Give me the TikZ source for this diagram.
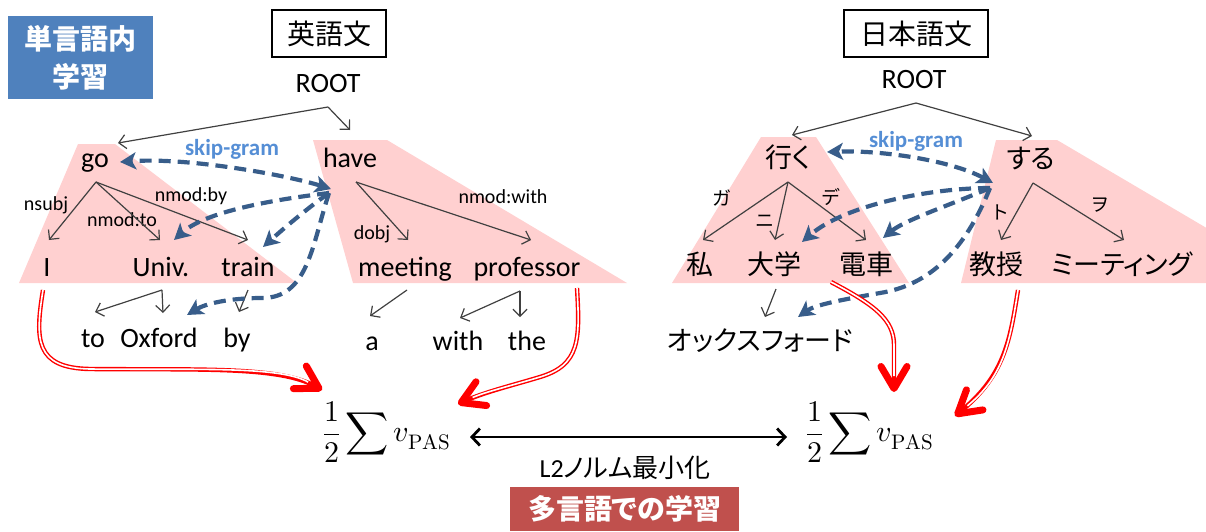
\documentclass[tikz,border=0pt]{standalone}
\usepackage{fontspec}
\usepackage{unicode-math}
\setmainfont{Carlito}
\setmathfont{Latin Modern Math}
\newfontfamily\jp[RawFeature=+palt]{Noto Sans CJK JP}
\usetikzlibrary{arrows.meta}
\definecolor{pinkfill}{RGB}{255,208,208}
\definecolor{dashblue}{RGB}{56,93,138}
\definecolor{skipblue}{RGB}{85,142,213}
\definecolor{boxblue}{RGB}{79,129,189}
\definecolor{boxred}{RGB}{192,80,77}
\definecolor{greyline}{RGB}{64,64,64}
\tikzset{
  word/.style={font=\fontsize{28}{32}\selectfont, inner sep=0pt, anchor=base},
  jword/.style={font=\jp\fontsize{27}{32}\selectfont, inner sep=0pt},
  lab/.style={font=\fontsize{20}{24}\selectfont, inner sep=0pt},
  jlab/.style={font=\jp\fontsize{19}{24}\selectfont, inner sep=0pt},
  dep/.style={draw=greyline, line width=1.2pt, -{Straight Barb[length=7pt,width=14pt]}},
  sg/.style={draw=dashblue, line width=4.2pt, dash pattern=on 12pt off 7pt, -{Stealth[length=16pt,width=17pt,inset=4pt]}},
  sgboth/.style={sg, {Stealth[length=16pt,width=17pt,inset=4pt]}-{Stealth[length=16pt,width=17pt,inset=4pt]}},
  redarr/.style={draw=red, line width=4.4pt, -{Straight Barb[length=22pt,width=26pt,line width=7pt,round]},
    postaction={draw=white, line width=1.6pt, -, shorten >=16pt}},
  skiplab/.style={font=\bfseries\fontsize{23}{28}\selectfont, text=skipblue, inner sep=0pt},
  titlebox/.style={draw, line width=1.3pt, font=\jp\fontsize{28}{32}\selectfont, minimum height=47pt, inner sep=0pt},
  sumstyle/.style={font=\fontsize{30}{38}\selectfont, inner sep=0pt},
}
\begin{document}
\begin{tikzpicture}[x=1pt,y=-1pt]
\useasboundingbox (0,0) rectangle (1206,531);
\begin{scope}
\clip (0,0) rectangle (1206,531);
\fill[pinkfill] (78,144) -- (115,144) -- (297,283) -- (19,283) -- cycle;
\fill[pinkfill] (313,140) -- (387,140) -- (627,283) -- (353,283) -- cycle;
\fill[pinkfill] (761,137) -- (816,137) -- (909,283) -- (672,283) -- cycle;
\fill[pinkfill] (996,140) -- (1057,140) -- (1300,283) -- (961,283) -- cycle;
\end{scope}

% boxes
\node[fill=boxblue, minimum width=145pt, minimum height=83pt, inner sep=0pt, align=center, text=white, font=\jp\bfseries\fontsize{28}{38}\selectfont] (mono) at (80.5,57.5) {単言語内\\学習};
\node[titlebox, minimum width=114pt] (entitle) at (329,33.5) {英語文};
\node[titlebox, minimum width=144pt] (jatitle) at (916,33.5) {日本語文};
\node[fill=boxred, text=white, minimum width=229pt, minimum height=44pt, inner sep=0pt, font=\jp\bfseries\fontsize{28}{32}\selectfont] (multi) at (624.5,509) {多言語での学習};

% English words
\node[word] (rootE) at (328,92) {ROOT};
\node[word] (go) at (95,167) {go};
\node[word] (have) at (350,167) {have};
\node[word] (I) at (47,276) {I};
\node[word] (univ) at (161,276) {Univ.};
\node[word] (train) at (248,276) {train};
\node[word] (meeting) at (405,276) {meeting};
\node[word] (prof) at (527,276) {professor};
\node[word] (to) at (93,347) {to};
\node[word] (oxford) at (159,347) {Oxford};
\node[word] (by) at (237,347) {by};
\node[word] (a) at (372,350) {a};
\node[word] (with) at (458,350) {with};
\node[word] (the) at (527,350) {the};

% labels English
\node[lab] (lnsubj) at (46,205) {nsubj};
\node[lab] (lnmodto) at (122,220) {nmod:to};
\node[lab] (lnmodby) at (191,196) {nmod:by};
\node[lab] (ldobj) at (372,234) {dobj};
\node[lab] (lnmodwith) at (503,197) {nmod:with};

% Japanese words
\node[word] (rootJ) at (914,88) {ROOT};
\node[jword] (iku) at (788,157) {行く};
\node[jword] (suru) at (1031,159) {する};
\node[jword] (watashi) at (700,264) {私};
\node[jword] (daigaku) at (774,264) {大学};
\node[jword] (densha) at (866,264) {電車};
\node[jword] (kyoju) at (996,264) {教授};
\node[jword] (mtg) at (1122,264) {ミーティング};
\node[jword] (oxj) at (760,341) {オックスフォード};

\node[jlab] (lga) at (722,198) {ガ};
\node[jlab] (lni) at (765,221) {ニ};
\node[jlab] (lde) at (831,197) {デ};
\node[jlab] (lto) at (1001,212) {ト};
\node[jlab] (lwo) at (1100,205) {ヲ};

% coordinates for dependency arrows
\coordinate (rEa) at (328,107);
\coordinate (goT) at (118,143);
\coordinate (haveT) at (350,130);
\coordinate (rJa) at (916,103);
\coordinate (ikuT) at (792,135);
\coordinate (suruT) at (1032,136);
\coordinate (goA) at (96,182);
\coordinate (IT) at (49,240);
\coordinate (univT) at (160,240);
\coordinate (trainT) at (248,240);
\coordinate (haveA) at (356,182);
\coordinate (meetT) at (408,240);
\coordinate (profT) at (531,240);
\coordinate (univA) at (162,290);
\coordinate (toT) at (95,312);
\coordinate (oxT) at (163,313);
\coordinate (trainA) at (248,290);
\coordinate (byT) at (239,312);
\coordinate (meetA) at (407,290);
\coordinate (aT) at (370,316);
\coordinate (profA) at (520,291);
\coordinate (withT) at (460,318);
\coordinate (theT) at (520,317);
\coordinate (ikuA) at (788,182);
\coordinate (watT) at (703,240);
\coordinate (daiT) at (775,240);
\coordinate (denT) at (866,240);
\coordinate (suruA) at (1033,183);
\coordinate (kyoT) at (1001,240);
\coordinate (mtgT) at (1124,240);
\coordinate (daiA) at (776,289);
\coordinate (oxjT) at (765,317);

\draw[dep] (rEa) -- (goT);
\draw[dep] (rEa) -- (haveT);
\draw[dep] (rJa) -- (ikuT);
\draw[dep] (rJa) -- (suruT);
\draw[dep] (goA) -- (IT);
\draw[dep] (goA) -- (univT);
\draw[dep] (goA) -- (trainT);
\draw[dep] (haveA) -- (meetT);
\draw[dep] (haveA) -- (profT);
\draw[dep] (univA) -- (toT);
\draw[dep] (univA) -- (oxT);
\draw[dep] (trainA) -- (byT);
\draw[dep] (meetA) -- (aT);
\draw[dep] (profA) -- (withT);
\draw[dep] (profA) -- (theT);
\draw[dep] (ikuA) -- (watT);
\draw[dep] (ikuA) -- (daiT);
\draw[dep] (ikuA) -- (denT);
\draw[dep] (suruA) -- (kyoT);
\draw[dep] (suruA) -- (mtgT);
\draw[dep] (daiA) -- (oxjT);

% skip-gram
\node[skiplab] (sgE) at (232,149) {skip-gram};
\node[skiplab] (sgJ) at (916,141) {skip-gram};
\coordinate (hubE) at (331,189);
\coordinate (hubE2) at (329,193);
\coordinate (goS) at (120,162);
\coordinate (univS) at (174,240);
\coordinate (trainS) at (263,247);
\coordinate (oxS) at (187,315);
\coordinate (hubJ) at (993,183);
\coordinate (hubJ2) at (990,188);
\coordinate (ikuS) at (827,152);
\coordinate (daiS) at (802,242);
\coordinate (denS) at (883,238);
\coordinate (oxjS) at (798,317);

\draw[sgboth] (hubE) .. controls (290,176) and (190,157) .. (goS);
\draw[sg] (hubE2) .. controls (270,200) and (205,212) .. (univS);
\draw[sg] (hubE2) .. controls (305,210) and (282,230) .. (trainS);
\draw[sg] (hubE2) .. controls (312,245) and (308,298) .. (262,298) .. controls (228,298) and (205,304) .. (oxS);

\draw[sgboth] (hubJ) .. controls (950,160) and (880,150) .. (ikuS);
\draw[sg] (hubJ2) .. controls (930,188) and (845,205) .. (daiS);
\draw[sg] (hubJ2) .. controls (950,205) and (905,220) .. (denS);
\draw[sg] (hubJ2) .. controls (965,250) and (930,285) .. (880,293) .. controls (840,300) and (815,305) .. (oxjS);

% sums
\node[sumstyle] (sumE) at (387,432) {$\displaystyle\frac{1}{2}\sum v_{\symup{PAS}}$};
\node[sumstyle] (sumJ) at (870,432) {$\displaystyle\frac{1}{2}\sum v_{\symup{PAS}}$};
\coordinate (l2a) at (470,437);
\coordinate (l2b) at (787,437);
\draw[line width=2.8pt, {Straight Barb[length=8pt,width=17pt]}-{Straight Barb[length=8pt,width=17pt]}] (l2a) -- (l2b);
\node[font=\fontsize{26}{30}\selectfont, inner sep=0pt] (l2) at (625,468) {L2{\jp ノルム最小化}};

% red arrows
\coordinate (r1s) at (43,290);
\coordinate (r1e) at (322,390);
\coordinate (r2s) at (577,288);
\coordinate (r2e) at (458,404);
\coordinate (r3s) at (831,282);
\coordinate (r3e) at (894,392);
\coordinate (r4s) at (1018,290);
\coordinate (r4e) at (955,416);
\draw[redarr] (r1s) .. controls (35,340) and (35,368) .. (90,369) .. controls (200,370) and (280,366) .. (r1e);
\draw[redarr] (r2s) .. controls (580,340) and (580,365) .. (540,377) .. controls (510,386) and (485,392) .. (r2e);
\draw[redarr] (r3s) .. controls (875,305) and (894,320) .. (894,345) -- (r3e);
\draw[redarr] (r4s) .. controls (1010,340) and (1005,375) .. (r4e);
\end{tikzpicture}
\end{document}
